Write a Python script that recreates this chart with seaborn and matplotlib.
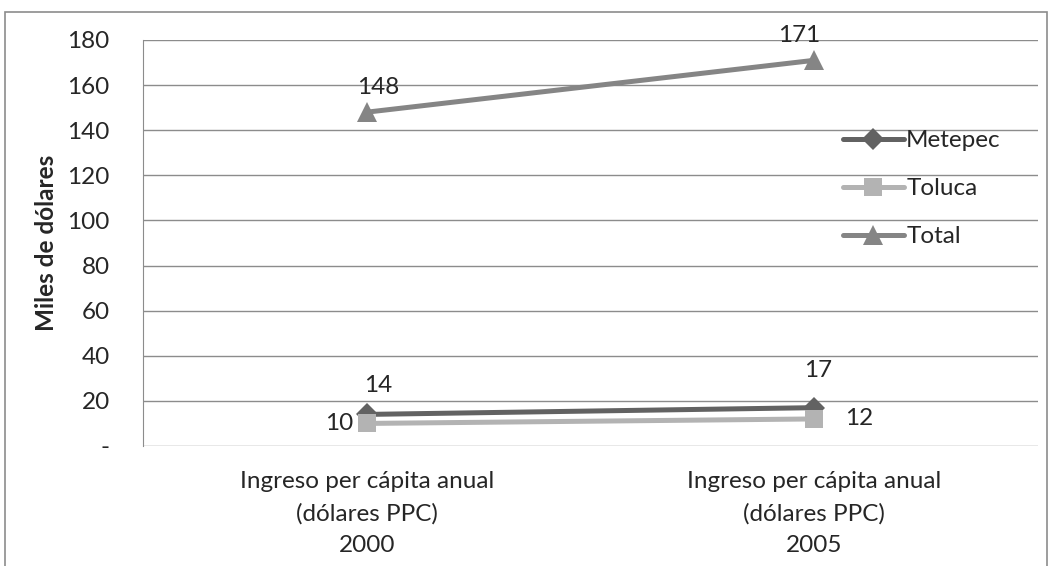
import matplotlib
matplotlib.use('Agg')
import matplotlib.pyplot as plt
import seaborn as sns
import pandas as pd
from matplotlib.patches import Rectangle

categorias = ['Ingreso per cápita anual\n(dólares PPC)\n2000',
              'Ingreso per cápita anual\n(dólares PPC)\n2005']
metepec = [14, 17]
toluca = [10, 12]
total = [148, 171]
series = ['Metepec', 'Toluca', 'Total']
y_ticks = [0, 20, 40, 60, 80, 100, 120, 140, 160, 180]
y_labels = ['-', '20', '40', '60', '80', '100', '120', '140', '160', '180']


def main():
  sns.set_style('white')
  plt.rcParams['font.family'] = ['Lato', 'DejaVu Sans']
  fs = 17.5

  df = pd.DataFrame({
    'x': [0, 1] * 3,
    'valor': metepec + toluca + total,
    'serie': [s for s in series for _ in range(2)],
  })

  colores = {'Metepec': '#626262', 'Toluca': '#b3b3b3', 'Total': '#858585'}
  marcas = {'Metepec': 'D', 'Toluca': 's', 'Total': '^'}
  tamanos = {'D': 11, 's': 13.5, '^': 14}

  fig = plt.figure(figsize=(10.51, 5.66), dpi=100)
  ax = fig.add_axes([143/1051, 1 - 446/566, 895/1051, 406/566])

  sns.lineplot(data=df, x='x', y='valor', hue='serie', style='serie',
               palette=colores, markers=marcas, dashes=False, lw=3.6,
               markersize=11, markeredgewidth=0, ax=ax, legend=False)
  for line in ax.lines:
    m = line.get_marker()
    if m in tamanos:
      line.set_markersize(tamanos[m])

  ax.set_xlim(-0.5, 1.5)
  ax.set_ylim(0, 180)
  ax.set_yticks(y_ticks)
  ax.set_yticklabels(y_labels, fontsize=fs)
  ax.set_xticks([0, 1])
  ax.set_xticklabels(categorias, fontsize=fs, linespacing=1.62)
  ax.set_xticks([-0.5, 0.5, 1.5], minor=True)
  ax.tick_params(axis='x', which='major', length=0, pad=18)
  ax.tick_params(axis='x', which='minor', length=8, color='#8c8c8c', width=1)
  ax.tick_params(axis='y', length=8, color='#8c8c8c', width=1, pad=16)
  ax.grid(axis='y', color='#8c8c8c', lw=1)
  ax.set_axisbelow(True)
  for s in ['top', 'right', 'bottom']:
    ax.spines[s].set_visible(False)
  ax.spines['left'].set_color('#8c8c8c')
  ax.set_xlabel('')
  ax.set_ylabel('Miles de dólares', fontsize=fs, fontweight='bold', labelpad=7)

  # etiquetas de datos
  desplaz = {
    'Metepec': [(8, 21), (3, 27)],
    'Toluca': [(-10, 0), (32, 0)],
    'Total': [(8, 18), (-11, 18)],
  }
  alineacion = {'Metepec': 'center', 'Toluca': None, 'Total': 'center'}
  for serie, vals in zip(series, [metepec, toluca, total]):
    for i, v in enumerate(vals):
      dx, dy = desplaz[serie][i]
      ha = alineacion[serie] or ('right' if i == 0 else 'center')
      ax.annotate(str(v), (i, v), xytext=(dx, dy), textcoords='offset points',
                  ha=ha, va='center', fontsize=fs)

  handles = [plt.Line2D([], [], color=colores[s], marker=marcas[s], lw=3.6,
                        markersize=tamanos[marcas[s]], markeredgewidth=0)
             for s in series]
  fig.legend(handles, series, loc='upper left',
             bbox_to_anchor=(843/1051, 1 - 130/566), frameon=False,
             fontsize=fs, handlelength=2.5, handletextpad=0.1,
             labelspacing=1.12, borderpad=0, borderaxespad=0)

  fig.patches.append(Rectangle((5/1051, -0.05), 1042/1051, 0.05 + 1 - 12/566,
                               transform=fig.transFigure, fill=False,
                               edgecolor='#8c8c8c', lw=1.2))

  plt.savefig('out.png', dpi=100)


if __name__ == "__main__":
  main()
